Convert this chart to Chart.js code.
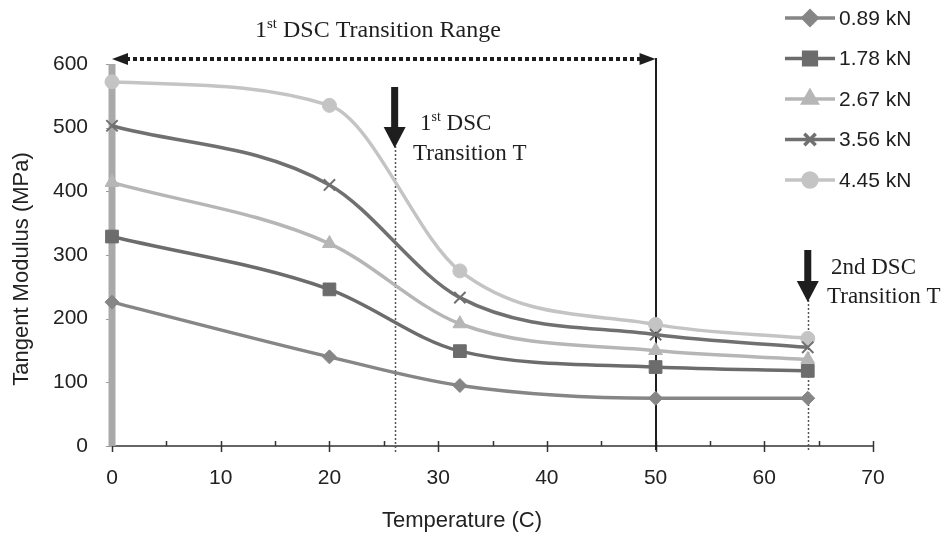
<!DOCTYPE html>
<html>
<head>
<meta charset="utf-8">
<script src="https://cdn.jsdelivr.net/npm/chart.js@4/dist/chart.umd.min.js"></script>
<style>
  html, body { margin: 0; padding: 0; background: #fff; }
  #wrap { width: 948px; height: 536px; }
</style>
</head>
<body>
<div id="wrap"><canvas id="modulusChart" width="948" height="536"></canvas></div>
<script>
// temperatures (C) where the modulus was measured
const temps = [0, 20, 32, 50, 64];
// tangent modulus (MPa) per load
const load089 = [226, 140, 95, 75, 75];
const load178 = [329, 246, 149, 124, 118];
const load267 = [414, 318, 192, 150, 136];
const load356 = [503, 410, 233, 175, 155];
const load445 = [572, 535, 275, 191, 169];
const seriesNames = ['0.89 kN', '1.78 kN', '2.67 kN', '3.56 kN', '4.45 kN'];

// grey bar along the y axis at 0 C
const barX = [0, 0];
const barY = [0, 600];

// axis ticks
const xTicks = [0, 10, 20, 30, 40, 50, 60, 70];
const xMinorTicks = [5, 15, 25, 35, 45, 55, 65];
const yTicks = [0, 100, 200, 300, 400, 500, 600];

// DSC annotations
const rangeStart = 0, rangeEnd = 50;
const firstTransition = 26;
const secondTransition = 64;

const styles = [
  { color: '#868686', point: 'rectRot', r: 7 },
  { color: '#6c6c6c', point: 'rect', r: 9 },
  { color: '#b6b6b6', point: 'triangle', r: 8 },
  { color: '#707070', point: 'crossRot', r: 8 },
  { color: '#c4c4c4', point: 'circle', r: 7 }
];

const allLoads = [load089, load178, load267, load356, load445];

const datasets = allLoads.map((vals, i) => ({
  label: seriesNames[i],
  data: temps.map((t, k) => ({ x: t, y: vals[k] })),
  borderColor: styles[i].color,
  backgroundColor: styles[i].color,
  pointBackgroundColor: styles[i].color,
  pointBorderColor: styles[i].color,
  pointStyle: styles[i].point,
  pointRadius: styles[i].r,
  pointBorderWidth: styles[i].point === 'crossRot' ? 2 : 1,
  borderWidth: 3.5,
  cubicInterpolationMode: 'monotone',
  clip: false
}));

datasets.push({
  label: 'bar',
  data: barX.map((x, k) => ({ x: x, y: barY[k] })),
  borderColor: '#a9a9a9',
  borderWidth: 7,
  pointRadius: 0,
  tension: 0,
  clip: false
});

const SANS = '"Liberation Sans", Arial, sans-serif';
const SERIF = '"Liberation Serif", "Times New Roman", serif';

function supText(ctx, x, y, parts, size) {
  // parts: [text, isSup]
  let cx = x;
  parts.forEach(p => {
    if (p[1]) {
      ctx.font = Math.round(size * 0.62) + 'px ' + SERIF;
      ctx.fillText(p[0], cx, y - size * 0.38);
    } else {
      ctx.font = size + 'px ' + SERIF;
      ctx.fillText(p[0], cx, y);
    }
    cx += ctx.measureText(p[0]).width;
  });
}

function downArrow(ctx, x, top, bottom) {
  const headH = 21, shaftW = 7, headW = 22;
  ctx.fillStyle = '#1e1e1e';
  ctx.fillRect(x - shaftW / 2, top, shaftW, bottom - top - headH + 1);
  ctx.beginPath();
  ctx.moveTo(x - headW / 2, bottom - headH);
  ctx.lineTo(x + headW / 2, bottom - headH);
  ctx.lineTo(x, bottom);
  ctx.closePath();
  ctx.fill();
}

const decorPlugin = {
  id: 'decor',
  beforeDatasetsDraw(chart) {
    const { ctx, chartArea, scales } = chart;
    const xs = scales.x, ys = scales.y;
    ctx.save();

    // x axis line and ticks
    ctx.strokeStyle = '#333';
    ctx.lineWidth = 1.5;
    ctx.beginPath();
    ctx.moveTo(chartArea.left, chartArea.bottom);
    ctx.lineTo(chartArea.right, chartArea.bottom);
    xTicks.forEach(v => {
      const px = Math.round(xs.getPixelForValue(v)) + 0.5;
      ctx.moveTo(px, chartArea.bottom - 5);
      ctx.lineTo(px, chartArea.bottom + 6);
    });
    xMinorTicks.forEach(v => {
      const px = Math.round(xs.getPixelForValue(v)) + 0.5;
      ctx.moveTo(px, chartArea.bottom - 5);
      ctx.lineTo(px, chartArea.bottom);
    });
    ctx.stroke();

    // y ticks to the left
    ctx.strokeStyle = '#999';
    ctx.lineWidth = 1;
    ctx.beginPath();
    yTicks.forEach(v => {
      const py = Math.round(ys.getPixelForValue(v)) + 0.5;
      ctx.moveTo(chartArea.left - 6, py);
      ctx.lineTo(chartArea.left, py);
    });
    ctx.stroke();

    // tick labels
    ctx.fillStyle = '#222';
    ctx.font = '21px ' + SANS;
    ctx.textAlign = 'center';
    ctx.textBaseline = 'middle';
    xTicks.forEach(v => ctx.fillText(String(v), xs.getPixelForValue(v), chartArea.bottom + 32));
    ctx.textAlign = 'right';
    yTicks.forEach(v => ctx.fillText(String(v), chartArea.left - 24, ys.getPixelForValue(v)));

    // axis titles
    ctx.font = '22px ' + SANS;
    ctx.textAlign = 'center';
    ctx.fillText('Temperature (C)', 462, 521);
    ctx.save();
    ctx.translate(22, 269);
    ctx.rotate(-Math.PI / 2);
    ctx.fillText('Tangent Modulus (MPa)', 0, 0);
    ctx.restore();

    // transition range: dotted double arrow + solid end line
    const xa = xs.getPixelForValue(rangeStart);
    const xb = xs.getPixelForValue(rangeEnd);
    const yr = 59;
    ctx.strokeStyle = '#1e1e1e';
    ctx.lineWidth = 4;
    ctx.setLineDash([4, 3]);
    ctx.beginPath();
    ctx.moveTo(xa + 14, yr);
    ctx.lineTo(xb - 14, yr);
    ctx.stroke();
    ctx.setLineDash([]);
    ctx.fillStyle = '#1e1e1e';
    ctx.beginPath();
    ctx.moveTo(xa, yr);
    ctx.lineTo(xa + 16, yr - 6);
    ctx.lineTo(xa + 16, yr + 6);
    ctx.closePath();
    ctx.fill();
    ctx.beginPath();
    ctx.moveTo(xb, yr);
    ctx.lineTo(xb - 16, yr - 6);
    ctx.lineTo(xb - 16, yr + 6);
    ctx.closePath();
    ctx.fill();
    ctx.lineWidth = 2;
    ctx.beginPath();
    ctx.moveTo(Math.round(xb), yr - 1);
    ctx.lineTo(Math.round(xb), chartArea.bottom + 4);
    ctx.stroke();

    // dotted transition lines
    ctx.strokeStyle = '#555';
    ctx.lineWidth = 1.5;
    ctx.setLineDash([2, 2]);
    const x1 = Math.round(xs.getPixelForValue(firstTransition)) + 0.5;
    const x2 = Math.round(xs.getPixelForValue(secondTransition)) + 0.5;
    ctx.beginPath();
    ctx.moveTo(x1, 146);
    ctx.lineTo(x1, chartArea.bottom + 6);
    ctx.moveTo(x2, 300);
    ctx.lineTo(x2, chartArea.bottom + 6);
    ctx.stroke();
    ctx.setLineDash([]);
    ctx.restore();
  },
  afterDatasetsDraw(chart) {
    const { ctx, scales } = chart;
    const xs = scales.x;
    ctx.save();
    ctx.fillStyle = '#1e1e1e';
    ctx.textAlign = 'left';
    ctx.textBaseline = 'alphabetic';

    supText(ctx, 255, 37, [['1', false], ['st', true], [' DSC Transition Range', false]], 24);

    const x1 = xs.getPixelForValue(firstTransition);
    downArrow(ctx, x1, 87, 148);
    ctx.fillStyle = '#1e1e1e';
    supText(ctx, 420, 130, [['1', false], ['st', true], [' DSC', false]], 23);
    supText(ctx, 413, 160, [['Transition T', false]], 23);

    const x2 = xs.getPixelForValue(secondTransition);
    downArrow(ctx, x2, 250, 302);
    ctx.fillStyle = '#1e1e1e';
    supText(ctx, 831, 274, [['2nd DSC', false]], 23);
    supText(ctx, 827, 303, [['Transition T', false]], 23);

    // legend
    const lx0 = 785, lx1 = 835;
    chart.data.datasets.forEach((ds, k) => {
      if (ds.label === 'bar') return;
      const y = 18 + k * 40.5;
      ctx.strokeStyle = ds.borderColor;
      ctx.lineWidth = 3.5;
      ctx.beginPath();
      ctx.moveTo(lx0, y);
      ctx.lineTo(lx1, y);
      ctx.stroke();
      ctx.fillStyle = ds.pointBackgroundColor;
      ctx.strokeStyle = ds.pointBorderColor;
      Chart.helpers.drawPoint(ctx, {
        pointStyle: ds.pointStyle,
        radius: ds.pointRadius,
        borderWidth: ds.pointBorderWidth,
        rotation: 0
      }, (lx0 + lx1) / 2, y);
      ctx.fillStyle = '#1e1e1e';
      ctx.font = '21px ' + SANS;
      ctx.textBaseline = 'middle';
      ctx.fillText(ds.label, 839, y + 1);
    });
    ctx.restore();
  }
};

new Chart(document.getElementById('modulusChart'), {
  type: 'line',
  data: { datasets: datasets },
  options: {
    responsive: false,
    animation: false,
    layout: { padding: { left: 112, right: 75, top: 64, bottom: 90 } },
    plugins: {
      legend: { display: false },
      tooltip: { enabled: false }
    },
    scales: {
      x: { type: 'linear', min: 0, max: 70, display: false },
      y: { type: 'linear', min: 0, max: 600, display: false }
    }
  },
  plugins: [decorPlugin]
});
</script>
</body>
</html>
